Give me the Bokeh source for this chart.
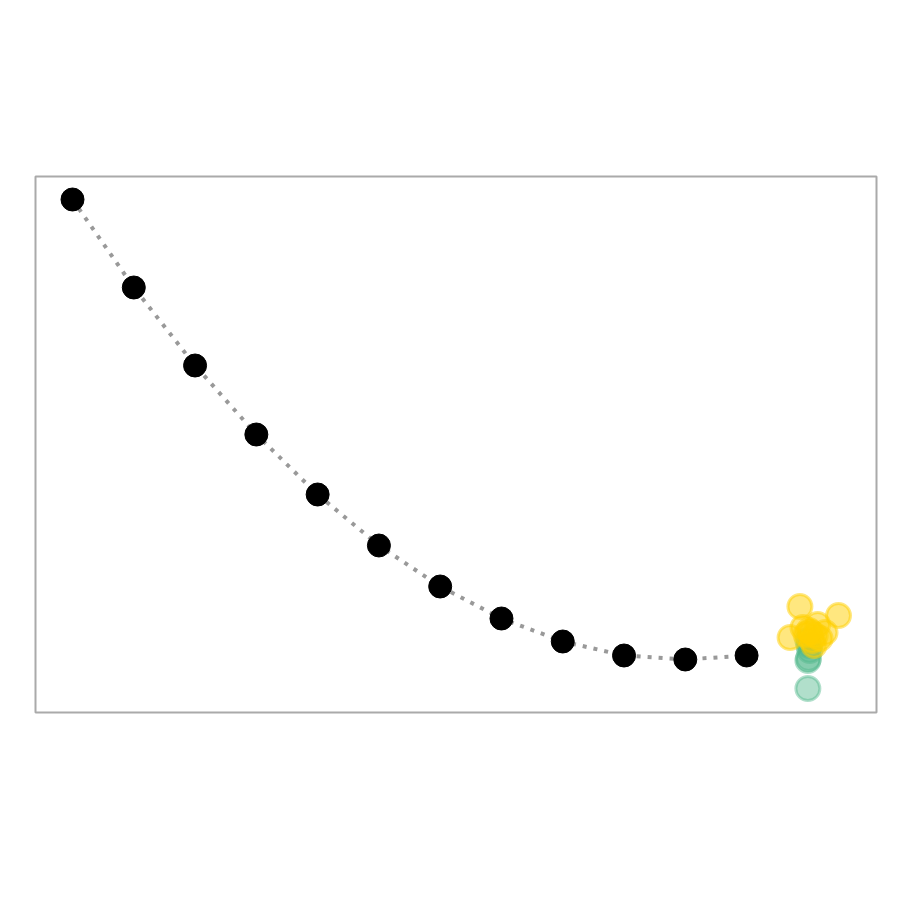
from bokeh.plotting import figure
from bokeh.embed import file_html
from bokeh.resources import INLINE
from bokeh.models import Range1d

# main trajectory
steps = [0, 1, 2, 3, 4, 5, 6, 7, 8, 9, 10, 11]
loss = [5.13, 4.25, 3.47, 2.78, 2.18, 1.67, 1.26, 0.94, 0.71, 0.57, 0.53, 0.57]

# cluster at final step
green_x = [12.0, 12.0, 12.01, 12.02, 12.0, 12.03]
green_y = [0.24, 0.52, 0.54, 0.67, 0.72, 0.62]
yellow_x = [11.87, 12.5, 11.71, 11.92, 12.16, 12.28, 12.07, 11.97, 12.1, 12.2, 12.02, 12.12, 12.05]
yellow_y = [1.06, 0.97, 0.75, 0.85, 0.88, 0.80, 0.72, 0.78, 0.67, 0.74, 0.82, 0.77, 0.80]

p = figure(width=900, height=900, output_backend="svg", toolbar_location=None,
           x_range=Range1d(-0.604, 13.12), y_range=Range1d(0, 5.36),
           min_border_left=35, min_border_right=24, min_border_top=176, min_border_bottom=188)
p.axis.visible = False
p.grid.visible = False
p.outline_line_color = "#aaaaaa"
p.outline_line_width = 2
p.background_fill_color = "white"
p.border_fill_color = "white"

p.line(steps, loss, line_color="#999999", line_width=4, line_dash="4 7")
p.scatter(steps, loss, size=23, fill_color="black", line_color="black")

p.scatter(green_x, green_y, size=24, fill_color="#52b98c", fill_alpha=0.45,
          line_color="#52b98c", line_alpha=0.45, line_width=3)
p.scatter(yellow_x, yellow_y, size=24, fill_color="#ffd000", fill_alpha=0.5,
          line_color="#ffd000", line_alpha=0.5, line_width=3)

open("out.html", "w").write(file_html(p, INLINE))
